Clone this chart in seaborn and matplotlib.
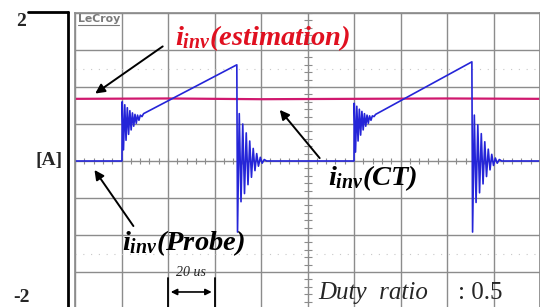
"""Oscilloscope capture: inverter current, probe vs CT vs estimation."""

import matplotlib

matplotlib.use("Agg")
import matplotlib.pyplot as plt
import numpy as np
import pandas as pd
import seaborn as sns
from matplotlib.lines import Line2D

# time in us, current in A (20 us / div, 0.5 A / div)
probe_t = [
    0.0, 20.2,
    20.3, 20.85, 21.4, 21.95, 22.5, 23.05, 23.6, 24.15, 24.7, 25.25, 25.8,
    26.35, 26.9, 27.5, 28.1, 28.8, 29.5,
    69.6,
    69.9, 70.65, 71.4, 72.15, 72.9, 73.65, 74.4, 75.15, 75.9, 76.65, 77.4,
    78.15, 78.9, 79.7, 80.5, 81.4, 82.4,
    120.0,
    120.1, 120.65, 121.2, 121.75, 122.3, 122.85, 123.4, 123.95, 124.5,
    125.05, 125.6, 126.15, 126.7, 127.3, 127.9, 128.6, 129.3,
    170.7,
    171.0, 171.75, 172.5, 173.25, 174.0, 174.75, 175.5, 176.25, 177.0,
    177.75, 178.5, 179.25, 180.0, 180.8, 181.6, 182.5, 183.5,
    200.0,
]
probe_i = [
    0.0, 0.0,
    0.80, 0.15, 0.76, 0.28, 0.72, 0.36, 0.68, 0.42, 0.65, 0.47, 0.63,
    0.51, 0.62, 0.55, 0.62, 0.60, 0.64,
    1.30,
    -0.96, 0.64, -0.55, 0.50, -0.44, 0.38, -0.32, 0.27, -0.22, 0.17, -0.13,
    0.10, -0.07, 0.05, -0.03, 0.02, 0.0,
    0.0,
    0.78, 0.12, 0.74, 0.27, 0.70, 0.35, 0.67, 0.42, 0.64, 0.47, 0.62,
    0.51, 0.61, 0.55, 0.61, 0.60, 0.63,
    1.34,
    -0.96, 0.62, -0.56, 0.49, -0.43, 0.37, -0.31, 0.26, -0.21, 0.16, -0.12,
    0.09, -0.06, 0.04, -0.03, 0.02, 0.0,
    0.0,
]

est_t = [0.0, 40.0, 80.0, 120.0, 160.0, 200.0]
est_i = [0.84, 0.845, 0.835, 0.84, 0.845, 0.84]

probe = pd.DataFrame({"t": probe_t, "i": probe_i})
est = pd.DataFrame({"t": est_t, "i": est_i})

sns.set_theme(style="white")
plt.rcParams["font.family"] = ["Liberation Serif", "DejaVu Serif"]
plt.rcParams["mathtext.fontset"] = "custom"
plt.rcParams["mathtext.it"] = "Liberation Serif:italic:bold"
plt.rcParams["mathtext.rm"] = "Liberation Serif:bold"

W, H = 540, 307
fig = plt.figure(figsize=(W / 100, H / 100), dpi=100)
ax = fig.add_axes([75 / W, -2 / H, 465 / W, 296 / H])
ax.set_xlim(0, 200)
ax.set_ylim(-2, 2)

grid_col = "#8c8c8c"
ax.set_xticks(np.arange(0, 201, 20))
ax.set_yticks(np.arange(-2, 2.01, 0.5))
ax.grid(True, color=grid_col, lw=1.0)
ax.tick_params(length=0, labelleft=False, labelbottom=False)
for s in ax.spines.values():
    s.set_color(grid_col)
for yy in (1.25, -1.25):
    ax.axhline(yy, color="#c8c8c8", lw=0.8, ls=(0, (1, 6)))

# centre cross with minor ticks
ax.plot(np.arange(0, 201, 4), np.zeros(51), ls="none", marker="|",
        ms=5, mew=0.8, color=grid_col)
ax.plot(np.full(41, 100.0), np.arange(-2, 2.01, 0.1), ls="none", marker="_",
        ms=6, mew=0.8, color=grid_col)

sns.lineplot(data=est, x="t", y="i", ax=ax, color="#d0186e", lw=1.6,
             estimator=None, sort=False)
sns.lineplot(data=probe, x="t", y="i", ax=ax, color="#2525d8", lw=1.2,
             estimator=None, sort=False)
ax.set_xlabel("")
ax.set_ylabel("")

ax.text(1.3, 1.92, "LeCroy", fontsize=7.8, color="#7a7a7a", weight="bold",
        family="DejaVu Sans", va="center", ha="left")
ax.plot([1.3, 19.0], [1.84, 1.84], color="#7a7a7a", lw=0.8)

arrow = dict(arrowstyle="-|>", color="black", lw=1.4, mutation_scale=14)
ax.annotate("", xy=(7.7, 0.89), xytext=(38.7, 1.57), arrowprops=arrow)
ax.annotate("", xy=(87.3, 0.72), xytext=(106.0, 0.01), arrowprops=arrow)
ax.annotate("", xy=(7.7, -0.09), xytext=(25.8, -0.91), arrowprops=arrow)

lab = dict(fontsize=20.5, style="italic", weight="bold", va="center", ha="left")
ax.text(43.0, 1.66, r"$i_{inv}$(estimation)", color="#e01020", **lab)
ax.text(108.8, -0.23, r"$i_{inv}$(CT)", color="black", **lab)
ax.text(20.2, -1.11, r"$i_{inv}$(Probe)", color="black", **lab)

# 20 us scale marker
for xx in (40, 60):
    ax.plot([xx, xx], [-1.58, -2.0], color="black", lw=1.3, clip_on=False)
ax.annotate("", xy=(40, -1.77), xytext=(60, -1.77),
            arrowprops=dict(arrowstyle="<|-|>", color="black", lw=1.2,
                            mutation_scale=9))
ax.text(50, -1.51, "20 us", fontsize=10, ha="center", va="center",
        style="italic")

ax.text(104.5, -1.78, "Duty  ratio", fontsize=18, style="italic",
        ha="left", va="center")
ax.text(164.7, -1.78, ": 0.5", fontsize=18, ha="left", va="center")

# outer scale axis on the left
fig.add_artist(Line2D([68 / W, 68 / W], [1 - 12 / H, 0], color="black", lw=2,
                      transform=fig.transFigure))
fig.add_artist(Line2D([28 / W, 68 / W], [1 - 12 / H, 1 - 12 / H], color="black",
                      lw=2, transform=fig.transFigure))
side = dict(fontsize=14, weight="bold", ha="center", va="center",
            transform=fig.transFigure)
fig.text(21 / W, 1 - 21 / H, "2", **side)
fig.text(49 / W, 1 - 160 / H, "[A]", **side)
fig.text(21 / W, 1 - 298 / H, "-2", **side)

fig.savefig("out.png", dpi=100, facecolor="white")
